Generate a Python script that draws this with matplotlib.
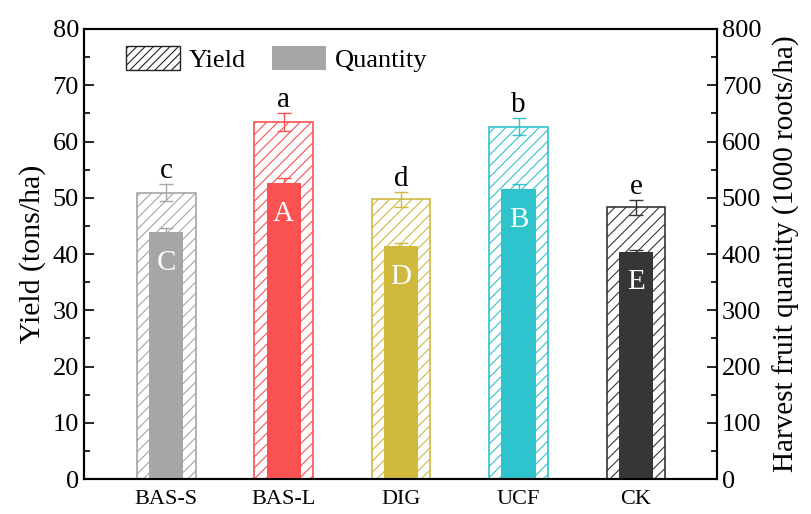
import matplotlib.pyplot as plt
import matplotlib.patches as patches
import numpy as np

plt.rcParams['font.family'] = ['Liberation Serif', 'DejaVu Serif']
plt.rcParams['hatch.linewidth'] = 0.8

treatments = ['BAS-S', 'BAS-L', 'DIG', 'UCF', 'CK']
yield_mean = [50.9, 63.5, 49.7, 62.6, 48.3]
yield_err = [1.5, 1.55, 1.4, 1.5, 1.35]
quantity_mean = [439, 526, 414, 515, 404]
quantity_err = [7, 9, 6, 10, 4]
yield_letters = ['c', 'a', 'd', 'b', 'e']
quantity_letters = ['C', 'A', 'D', 'B', 'E']
colors = ['#A6A6A6', '#FA5151', '#D1B93E', '#2FC3CE', '#363636']

x = np.arange(len(treatments))

fig = plt.figure(figsize=(8.12, 5.14), dpi=100)
ax = fig.add_axes([0.1034, 0.068, 0.7796, 0.8756])
ax2 = ax.twinx()

# hatched yield bars on the left axis
for i in range(len(x)):
    ax.bar(x[i], yield_mean[i], width=0.5, facecolor='none', edgecolor=colors[i],
           hatch='///', linewidth=1.2, zorder=2)
    ax.errorbar(x[i], yield_mean[i], yerr=yield_err[i], color=colors[i],
                capsize=5, elinewidth=1, capthick=1, zorder=3)
    ax.annotate(yield_letters[i], (x[i], yield_mean[i] + yield_err[i]),
                xytext=(0, 0), textcoords='offset points', ha='center', va='bottom',
                fontsize=21)

# solid quantity bars on the right axis
for i in range(len(x)):
    ax2.bar(x[i], quantity_mean[i], width=0.29, color=colors[i], zorder=2)
    ax2.errorbar(x[i], quantity_mean[i], yerr=quantity_err[i], color=colors[i],
                 capsize=5, elinewidth=1, capthick=1, zorder=3)
    ax2.annotate(quantity_letters[i], (x[i], quantity_mean[i]),
                 xytext=(0, -22), textcoords='offset points', ha='center', va='center',
                 fontsize=21, color='white')

ax.set_xlim(-0.7, 4.69)
ax.set_ylim(0, 80)
ax2.set_ylim(0, 800)
ax.set_yticks(np.arange(0, 81, 10))
ax.set_yticks(np.arange(0, 81, 5), minor=True)
ax2.set_yticks(np.arange(0, 801, 100))
ax2.set_yticks(np.arange(0, 801, 50), minor=True)
ax.set_xticks(x)
ax.set_xticklabels(treatments)

ax.tick_params(axis='x', length=0, labelsize=16, pad=8)
ax.tick_params(axis='y', which='major', direction='in', length=7, width=1.2, labelsize=19)
ax.tick_params(axis='y', which='minor', direction='in', length=4, width=1.2)
ax2.tick_params(axis='y', which='major', direction='in', length=7, width=1.2, labelsize=19)
ax2.tick_params(axis='y', which='minor', direction='in', length=4, width=1.2)

for s in ax.spines.values():
    s.set_linewidth(1.5)
for s in ax2.spines.values():
    s.set_linewidth(1.5)

ax.set_ylabel('Yield (tons/ha)', fontsize=21.5, labelpad=5)
ax2.set_ylabel('Harvest fruit quantity (1000 roots/ha)', fontsize=21, labelpad=8)

h1 = patches.Patch(facecolor='none', edgecolor='#222222', hatch='////', linewidth=1, label='Yield')
h2 = patches.Patch(facecolor='#A6A6A6', edgecolor='none', label='Quantity')
ax2.legend(handles=[h1, h2], ncol=2, frameon=False, fontsize=19, loc='upper left',
           bbox_to_anchor=(0.05, 0.985), handlelength=2.05, handleheight=1.0,
           handletextpad=0.34, columnspacing=0.95, borderaxespad=0)

fig.savefig('out.png', dpi=100)
